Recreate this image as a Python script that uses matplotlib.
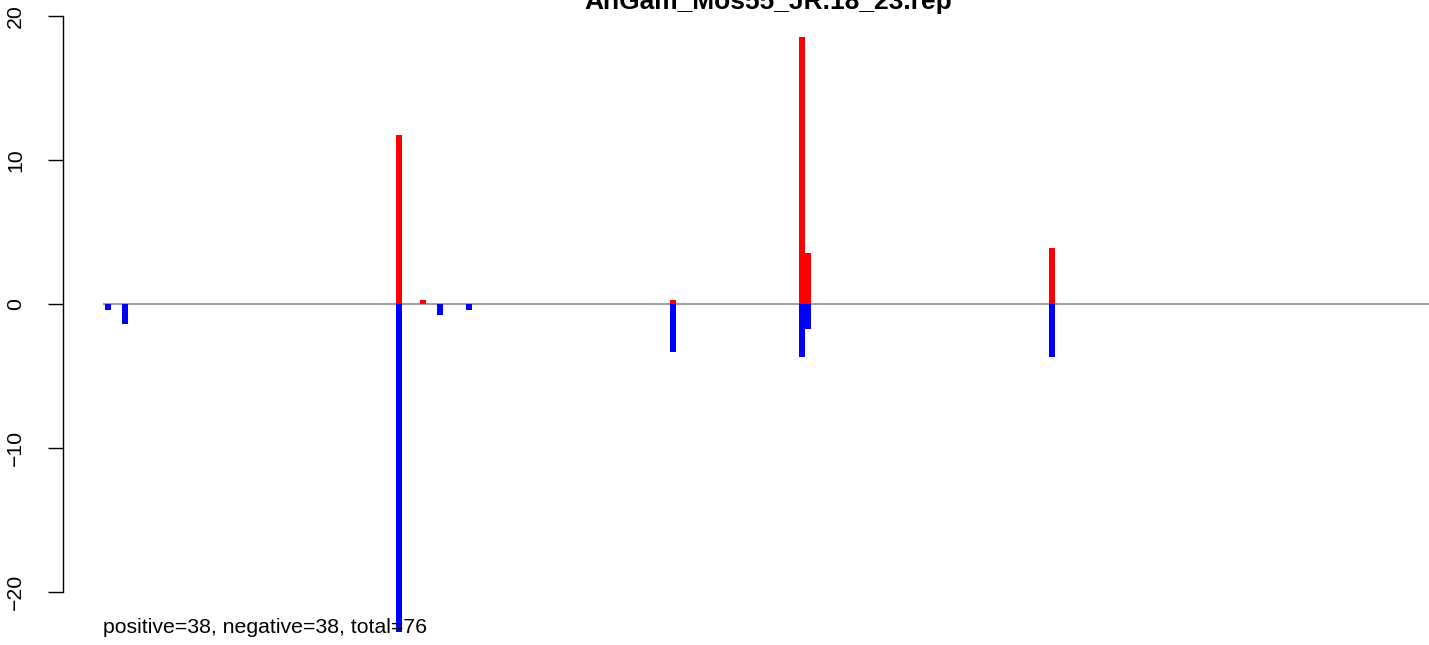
import matplotlib.pyplot as plt

plt.rcParams['font.family'] = ['Liberation Sans', 'DejaVu Sans']

# Bar positions (residue index) and values
positions = [0, 3, 50, 54, 57, 62, 97, 119, 120, 162]
pos_vals = [0, 0, 11.76, 0.28, 0, 0, 0.28, 18.56, 3.56, 3.91]
neg_vals = [-0.40, -1.37, -22.8, 0, -0.76, -0.42, -3.31, -3.66, -1.72, -3.66]
yticks = [-20, -10, 0, 10, 20]
title = "AnGam_Mos55_JR.18_23.rep"
footer = "positive=38, negative=38, total=76"

W, H = 1429, 645
fig = plt.figure(figsize=(W / 100, H / 100), dpi=100)
ax = fig.add_axes([62.5 / W, 0, 1 - 62.5 / W, 1])

# zero line, starting at the first bar
ax.plot([-0.6, 300], [0, 0], color='#a0a0a0', lw=1.5, zorder=1)

ax.bar(positions, pos_vals, width=1.03, color='red', zorder=2, linewidth=0)
ax.bar(positions, neg_vals, width=1.03, color='blue', zorder=2, linewidth=0)

ax.set_xlim(-7.8, 226.6)
ax.set_ylim(-23.68, 21.11)

for s in ['top', 'right', 'bottom']:
    ax.spines[s].set_visible(False)
ax.spines['left'].set_bounds(-20, 20)
ax.spines['left'].set_linewidth(1.0)
ax.set_xticks([])
ax.set_yticks(yticks)
ax.set_yticklabels([str(t).replace('-', '\u2212') for t in yticks],
                   rotation=90, va='center', fontsize=15.3)
ax.tick_params(axis='y', length=11, width=1.0, pad=16)

fig.text(768 / W, 1 - 9 / H, title, ha='center', va='baseline',
         fontsize=19, fontweight='bold')
fig.text(103 / W, 1 - 633 / H, footer, ha='left', va='baseline', fontsize=15.3)

fig.savefig('out.png', dpi=100)
